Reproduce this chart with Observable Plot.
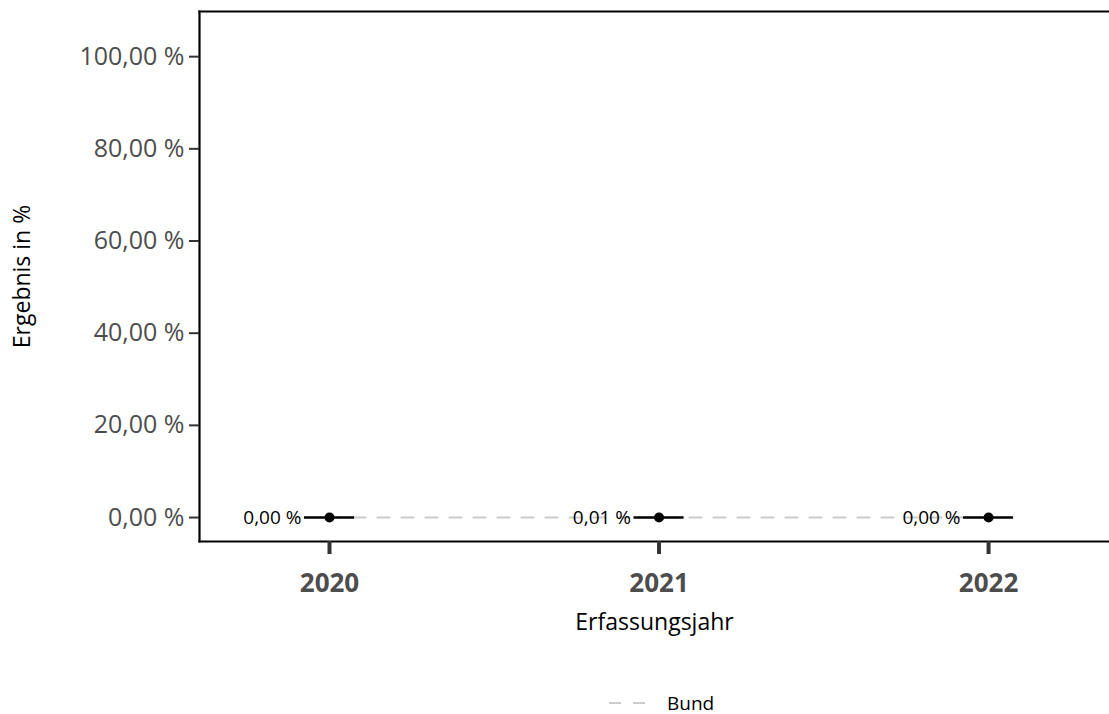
<!DOCTYPE html>
<html>
<head>
<meta charset="utf-8">
<script src="https://cdn.jsdelivr.net/npm/d3@7"></script>
<script src="https://cdn.jsdelivr.net/npm/@observablehq/plot@0.6"></script>
<style>
  body { margin: 0; background: #fff; font-family: "Open Sans", sans-serif; }
  #legend { position: relative; height: 34px; }
  #legend .item { position: absolute; left: 609px; top: 6px; height: 34px; display: flex; align-items: center; font-size: 19px; color: #000; }
  #legend svg { margin-right: 22px; }
</style>
</head>
<body>
<div id="chart"></div>
<div id="legend"></div>
<script>
const years = [2020, 2021, 2022];
const values = [0.00, 0.01, 0.00];
const valueLabels = ["0,00 %", "0,01 %", "0,00 %"];
const bundValues = [0.00, 0.01, 0.00];
const yTicks = [0, 20, 40, 60, 80, 100];
const seriesName = "Bund";
const xTitle = "Erfassungsjahr";
const yTitle = "Ergebnis in %";

const data = years.map((y, i) => ({year: y, value: values[i], label: valueLabels[i]}));
const bund = years.map((y, i) => ({year: y, value: bundValues[i]}));
const fmt = d => d.toFixed(2).replace(".", ",") + " %";
const half = 0.076;

const chart = Plot.plot({
  width: 1109,
  height: 680,
  marginLeft: 199,
  marginRight: 0,
  marginTop: 11,
  marginBottom: 139,
  style: {fontFamily: "Open Sans, sans-serif", background: "#fff"},
  x: {domain: [2019.6055, 2022.367]},
  y: {domain: [-5.2, 109.8]},
  marks: [
    Plot.frame({anchor: "top", stroke: "#000", strokeWidth: 2.2}),
    Plot.frame({anchor: "left", stroke: "#000", strokeWidth: 2.2}),
    Plot.frame({anchor: "bottom", stroke: "#000", strokeWidth: 2.2}),
    Plot.axisY({ticks: yTicks, tickFormat: fmt, tickSize: 10, tickPadding: 5, fontSize: 25, fill: "#4d4d4d", stroke: "#333", strokeWidth: 2, label: null}),
    Plot.axisX({ticks: years, tickFormat: d => String(d), tickSize: 13, tickPadding: 19, fontSize: 26, fontWeight: "bold", fill: "#4d4d4d", stroke: "#333", strokeWidth: 4, label: null}),
    Plot.text([xTitle], {frameAnchor: "bottom", lineAnchor: "middle", textAnchor: "middle", dy: 81, fontSize: 23, fill: "#000", text: d => d}),
    Plot.text([yTitle], {frameAnchor: "left", textAnchor: "middle", lineAnchor: "middle", dx: -177, rotate: -90, fontSize: 23, fill: "#000", text: d => d}),
    Plot.line(bund, {x: "year", y: "value", stroke: "#cccccc", strokeWidth: 2, strokeDasharray: "12,12"}),
    Plot.ruleY(data, {x1: d => d.year - half, x2: d => d.year + half, y: "value", stroke: "#000", strokeWidth: 2.5}),
    Plot.dot(data, {x: "year", y: "value", r: 5, fill: "#000", stroke: "none"}),
    Plot.text(data, {x: "year", y: "value", text: "label", textAnchor: "end", dx: -28, fontSize: 19, fill: "#000"})
  ]
});
document.getElementById("chart").appendChild(chart);

const leg = document.getElementById("legend");
leg.innerHTML = `<div class="item"><svg width="36" height="10"><line x1="0" y1="5" x2="36" y2="5" stroke="#cccccc" stroke-width="2" stroke-dasharray="12,12"/></svg><span>${seriesName}</span></div>`;
</script>
</body>
</html>
